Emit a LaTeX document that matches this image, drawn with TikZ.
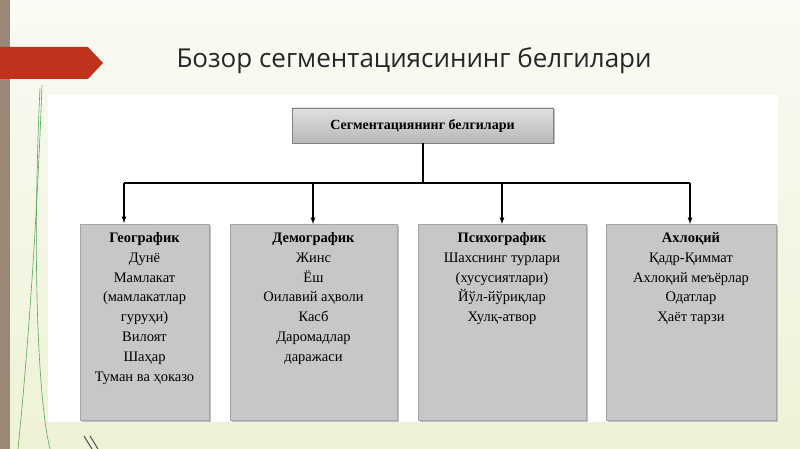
\documentclass[tikz,border=0pt]{standalone}
\usepackage{fontspec}
\setmainfont{Liberation Serif}
\newfontfamily\titlefont{Open Sans}
\usetikzlibrary{shadows}
\definecolor{bgtop}{RGB}{250,250,244}
\definecolor{bgbot}{RGB}{238,242,214}
\definecolor{banner}{RGB}{192,50,28}
\begin{document}
\begin{tikzpicture}[x=1pt,y=-1pt,
  cat/.style={draw=gray!70,fill=black!22,minimum width=#1,minimum height=196pt,anchor=north,inner sep=0pt,drop shadow={shadow xshift=1.5pt,shadow yshift=-1.5pt,opacity=.5}},
  lbl/.style={anchor=north,align=center,font=\fontsize{14.5}{19.8}\selectfont},
  arr/.style={-latex,line width=1.2pt},
  ln/.style={line width=1.2pt}]
\useasboundingbox (0,0) rectangle (800,449);
\shade[top color=bgtop,bottom color=bgbot] (0,0) rectangle (800,449);
\fill[white] (48,95) rectangle (778,422);
\fill[black!55!brown!60] (0,0) rectangle (10,449);
\draw[green!30!gray,line width=0.6pt] (42,85) .. controls (36,250) and (25,380) .. (18,449);
\draw[green!30!gray,line width=0.6pt] (40,88) .. controls (32,260) and (38,400) .. (50,449);
\draw[black!70,line width=1pt] (84,436) -- (92,449) (90,436) -- (98,449);
\fill[banner] (0,47) -- (88,47) -- (103,63) -- (88,79) -- (0,79) -- cycle;
\node[font=\titlefont\fontsize{26}{30}\selectfont,text=black!85,anchor=west] (title) at (173,61) {Бозор сегментациясининг белгилари};
\node[draw=gray,top color=black!12,bottom color=black!28,minimum width=261pt,minimum height=35pt,inner sep=0pt,font=\bfseries\fontsize{14}{16}\selectfont,drop shadow={shadow xshift=1.5pt,shadow yshift=-1.5pt,opacity=.5}] (top) at (422.5,125.5) {Сегментациянинг белгилари};
\node[cat=129pt] (b1) at (144.5,224) {};
\node[cat=167pt] (b2) at (313.5,224) {};
\node[cat=168pt] (b3) at (502,224) {};
\node[cat=170pt] (b4) at (691,224) {};
\node[lbl] (t1) at (b1.north) [yshift=-5pt] {\textbf{Географик}\\Дунё\\Мамлакат\\(мамлакатлар\\гуруҳи)\\Вилоят\\Шаҳар\\Туман ва ҳоказо};
\node[lbl] (t2) at (b2.north) [yshift=-5pt] {\textbf{Демографик}\\Жинс\\Ёш\\Оилавий аҳволи\\Касб\\Даромадлар\\даражаси};
\node[lbl] (t3) at (b3.north) [yshift=-5pt] {\textbf{Психографик}\\Шахснинг турлари\\(хусусиятлари)\\Йўл-йўриқлар\\Хулқ-атвор};
\node[lbl] (t4) at (b4.north) [yshift=-5pt] {\textbf{Ахлоқий}\\Қадр-Қиммат\\Ахлоқий меъёрлар\\Одатлар\\Ҳаёт тарзи};
\coordinate (j) at (423,183);
\draw[ln] (top.south -| j) -- (j);
\draw[ln] (124,183) -- (690,183);
\draw[arr] (124,183) -- (124,223);
\draw[arr] (313,183) -- (b2.north -| 313,0);
\draw[arr] (502,183) -- (b3.north -| 502,0);
\draw[arr] (690,183) -- (b4.north -| 690,0);
\end{tikzpicture}
\end{document}
